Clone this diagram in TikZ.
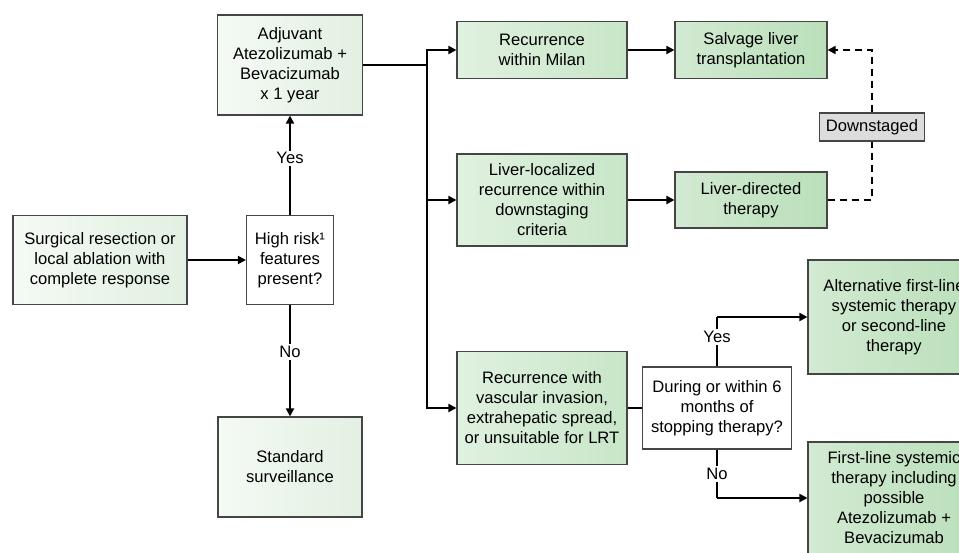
\documentclass[tikz,border=0pt]{standalone}
\usepackage{fontspec}
\setmainfont{Liberation Sans}
\usetikzlibrary{arrows.meta}
\definecolor{bord}{HTML}{454545}
\definecolor{lightL}{HTML}{F4FAF4}
\definecolor{lightR}{HTML}{E2F0E2}
\definecolor{midL}{HTML}{E0F1E0}
\definecolor{midR}{HTML}{C8E6C8}
\definecolor{darkL}{HTML}{D2EAD2}
\definecolor{darkR}{HTML}{BADFBA}
\definecolor{greybox}{HTML}{DCDCDC}
\tikzset{
  basebox/.style={draw=bord, line width=1.1pt, inner sep=2pt, align=center,
    font=\fontsize{16.6}{20}\selectfont},
  lightbox/.style={basebox, left color=lightL, right color=lightR},
  midbox/.style={basebox, left color=midL, right color=midR},
  darkbox/.style={basebox, left color=darkL, right color=darkR},
  whitebox/.style={basebox, fill=white},
  greyb/.style={basebox, fill=greybox},
  conn/.style={line width=1.8pt, black},
  arr/.style={conn, -{Triangle[length=8pt,width=8pt]}},
  dasharr/.style={line width=1.8pt, dash pattern=on 7pt off 5pt, -{Triangle[length=8pt,width=8pt]}},
  dashline/.style={line width=1.8pt, dash pattern=on 7pt off 5pt},
  lbl/.style={fill=white, inner sep=2pt, font=\fontsize{16.6}{20}\selectfont}
}
\begin{document}
\begin{tikzpicture}[x=1pt,y=-1pt]
\clip (0,0) rectangle (959,552);
\fill[white] (0,0) rectangle (959,552);

\node[lightbox, minimum width=174pt, minimum height=89pt] (surg) at (100,260) {Surgical resection or\\local ablation with\\complete response};
\node[whitebox, minimum width=87pt, minimum height=89pt] (risk) at (290,260) {High risk¹\\features\\present?};
\node[lightbox, minimum width=145pt, minimum height=100pt] (adj) at (290,65) {Adjuvant\\Atezolizumab +\\Bevacizumab\\x 1 year};
\node[lightbox, minimum width=144pt, minimum height=100pt] (std) at (290,467) {Standard\\surveillance};

\node[midbox, minimum width=170pt, minimum height=57pt] (milan) at (542,50) {Recurrence\\within Milan};
\node[darkbox, minimum width=152pt, minimum height=57pt] (salv) at (751,50) {Salvage liver\\transplantation};
\node[midbox, minimum width=170pt, minimum height=92pt] (loc) at (542,200) {Liver-localized\\recurrence within\\downstaging\\criteria};
\node[darkbox, minimum width=152pt, minimum height=56pt] (dir) at (751,200) {Liver-directed\\therapy};
\node[midbox, minimum width=170pt, minimum height=113pt] (vasc) at (542,408) {Recurrence with\\vascular invasion,\\extrahepatic spread,\\or unsuitable for LRT};
\node[whitebox, minimum width=149pt, minimum height=82pt] (during) at (717,408) {During or within 6\\months of\\stopping therapy?};
\node[darkbox, minimum width=172pt, minimum height=114pt] (alt) at (894,317) {Alternative first-line\\systemic therapy\\or second-line\\therapy};
\node[darkbox, minimum width=172pt, minimum height=112pt] (first) at (894,498) {First-line systemic\\therapy including\\possible\\Atezolizumab +\\Bevacizumab};
\node[greyb, minimum width=105pt, minimum height=28pt] (down) at (872,127) {Downstaged};

\coordinate (trunk) at (427,65);
\coordinate (dcorner) at (872,200);
\coordinate (ucorner) at (872,50);
\coordinate (yescorner) at (717,317);
\coordinate (nocorner) at (717,498);

\draw[arr] (surg.east) -- (risk.west);
\draw[arr] (risk.north) -- node[lbl, pos=0.57] {Yes} (adj.south);
\draw[arr] (risk.south) -- node[lbl, pos=0.42] {No} (std.north);

\draw[conn] (adj.east) -- (trunk);
\draw[arr] (trunk) |- (milan.west);
\draw[arr] (trunk) |- (loc.west);
\draw[arr] (trunk) |- (vasc.west);

\draw[arr] (milan.east) -- (salv.west);
\draw[arr] (loc.east) -- (dir.west);
\draw[conn] (vasc.east) -- (during.west);

\draw[conn] (during.north) -- node[lbl, pos=0.6] {Yes} (yescorner);
\draw[arr] (yescorner) -- (alt.west);
\draw[conn] (during.south) -- node[lbl] {No} (nocorner);
\draw[arr] (nocorner) -- (first.west |- nocorner);

\draw[dashline] (dir.east) -- (dcorner) -- (down.south);
\draw[dasharr] (down.north) -- (ucorner) -- (salv.east);
\end{tikzpicture}
\end{document}
